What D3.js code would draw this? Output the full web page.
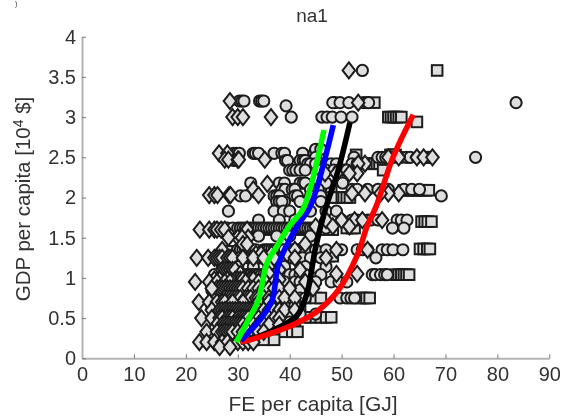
<!DOCTYPE html>
<html><head><meta charset="utf-8">
<script src="https://cdn.jsdelivr.net/npm/d3@7/dist/d3.min.js"></script>
<style>html,body{margin:0;padding:0;background:#fff}svg{display:block}text{font-family:"Liberation Sans",Arial,sans-serif;fill:#333}</style>
</head><body>
<svg id="c" width="563" height="419"></svg>
<script>
const xTicks=[0,10,20,30,40,50,60,70,80,90];
const yTicks=[0,0.5,1,1.5,2,2.5,3,3.5,4];
const yTickLabels=["0","0.5","1","1.5","2","2.5","3","3.5","4"];
const squareRows=[
[3.58,[68.4]],[3.18,[56.3]],[3.0,[59,59.5,60,60.5,61,61.5]],[2.94,[64.5]],[2.53,[52.8,59.4,59.9,60.4]],
[2.42,[54.8,55.3,55.8,56.3,56.8,57.3]],[2.34,[50,58]],[2.09,[62,62.6,63.2,63.8,64.4,65,65.6,66.2,66.8]],[2.08,[47.2,48]],[2.0,[49.2,49.8,50.4,51,51.6,48]],
[1.7,[65.4,66,66.6,67.3]],[1.62,[51,52,52.5]],[1.6,[32,34,36,38,40,42,44,46,48.3]],[1.36,[65.1,65.8,66.5,67]],[1.27,[41,43,45,47.5,48.3]],[1.33,[28,30,32,34,36,38,40]],
[1.04,[60.5,61,61.5,62,62.5,63]],[1.0,[31,33,35,37,39,41,43,45]],[0.92,[30,32,34,36,38,40,42,44]],[0.75,[29,31,33,35,37,39,41,43,45,46,53.6,54.2,54.8,55.4]],
[0.6,[28,30,32,34,36,38,40,42]],[0.51,[44,45,46,47,48,43]],[0.45,[29,31,33,35,37,39,41]],[0.33,[31,33,35,37,39,40.5,41.5]],[0.23,[29,31,33,35,37]]
];
const circleRows=[
[3.58,[54]],[3.2,[30.3,30.8,31.2,34.2,34.6,35]],[3.18,[48.7,48.3,49.7,51.4,54.2,54.8,55.2,83.6]],[3.14,[39.3]],[3.0,[40.3,46.2,47.2,48.2,49.9,52]],
[2.55,[29.2,29.8,30.3,33,33.4,34,37,38.5,39,44.7,42.5]],[2.46,[39.2,39.6,29.3,29.7,42,42.6,43]],[2.6,[45,46]],[2.5,[45,52.4,57,57.8,58.5,60,61.5,62.5,63.2,64.5,66,66.6,67,75.8]],[2.42,[43.5,44,45,46,47,48,49,52,53]],
[2.34,[40,40.6,41.2,42,43,46,47,48.5,49.5,50.5,51]],[2.18,[32.5,42,42.6,43,50.2,47,38,39]],[2.1,[38.5,39.1,40.5,41,44,45,45.5,52,53,55,57,58.5,59,62,63.5,65]],[2.02,[30.5,31.5,37,37.5,38,41,41.5,44,46,69.2]],[1.95,[37.5,38,39,42.5,46,42,38.5]],
[1.83,[37,38.8,40,44,47,49,28.2]],[1.72,[34,38,41,50,52,60.7,61.5,62.6,55,55.6,57,53]],[1.62,[59.8,62,26,27,28,29,30,30.5,31,31.5,32,32.5,33,33.5,34,34.5,35,35.5,36,36.5,37,37.5,38,38.5,39,39.5,40,40.5,41,41.5,42,42.5,43,43.5,44,44.5,45,47]],[1.52,[30.5,34,37.5,40,44]],
[1.35,[30,30.5,31,31.5,32,32.5,33,33.5,35,35.5,36,36.5,37,37.5,38.5,39,40,40.5,41,41.5,42,42.5,43,45,47,50,53,54,55,57.8,58.8,59.9,61.8]],[1.25,[26,28,30,30.5,32,32.5,33,33.5,34,34.5,35,35.5,36,37,38,38.5,40,40.5,42,42.5,44,46,56.6]],[1.14,[27,30,33,36,39,43,47]],
[1.04,[25.5,27,28,28.5,29,29.5,30,30.5,31,31.5,32,32.5,33,33.5,34,34.5,35,35.5,36,36.5,37,37.5,38,38.5,40,41,42,43,46,55.9,56.5,57.5,58.3,58.8]],[0.95,[26,28,29,30,32,33,34,36,37,38,39,41,42,44,45,48,49.5,51]],[0.85,[25,27,28,29,30,31,33,34,35,36,38,40,42,44]],[0.75,[26,28,29,30,31,32,34,35,36,37,38,40,42,43,49.7,51,51.8,52.5]],
[0.65,[25,26,27,28,29,30,31,32,33,34,35,36,38,39,41]],[0.55,[26,27,28,29,30,31,32,33,34,35,36,37,39,40,42,45]],[0.45,[26,27,28,29,30,31,32,33,34,35,36,37,38,40]],[0.35,[26,27,28,29,30,31,32,33,34,35,36]],[0.24,[25,26,27,28,29,30,31,32,33]]
];
const diamondRows=[
[3.58,[51.4]],[3.2,[28.5]],[3.0,[29,30,31,36.4]],[2.55,[26.4,28]],[2.47,[27.5,28.2,30,30.2,35.2]],[2.42,[54.5,53.2]],[2.3,[53,46.8,49,51.5]],
[2.5,[59,61,64.5,65.8,67.5]],[3.18,[53.2]],[2.17,[35.7]],[2.1,[33]],[2.03,[24.5,25.5,26.1,28.3,28.6,34]],[2.05,[61,59,57.5,54.5,52]],
[1.72,[57.8,47,50,52.5,54]],[1.64,[45,48.3,51.5]],[1.6,[22.7,24.5,25.5,26,26.8,27.5,31.8]],[1.5,[30,32,28.2,30.8]],[1.42,[31,31.8,43]],
[1.3,[33.5,34.5,36.5,39.5]],[1.35,[27,41,49,55]],[1.25,[22.1,24.3,25.5,26,26.5,27,28,28.5,29,31,33,37,41,47,35]],[1.1,[27,27.5,28,28.5,29,38,42,29.5]],[1.05,[30.5,36,49,53]],[0.98,[25.5,26.5,28,29.5,30,30.5,31,32.5,33,35,38]],[0.95,[21.8,24.5,26,27.5,29,31.5,34,37,43,28.5]],
[0.87,[26,26.5,27,27.5,28,28.5,29,29.5,30,30.5,31,32,33,34,35,36,37,38,40,44.5,25]],[0.75,[27.5,28,28.5,29,29.5,30,30.5,31.5,32,32.5,33.5,34,35,36,37,38,39,41]],[0.7,[22.5,24.5,26,27,27.5,31,34,29,36]],[0.6,[25,26.5,27,27.5,28,28.5,29,29.5,30,30.5,31,31.5,32,32.5,33,33.5,34,35,36,37,38,39,41]],[0.5,[23,25,26.5,27,28,28.5,29,30,30.5,31,31.5,32,33,34,35,36,37,38]],[0.42,[26,27,27.5,28,28.5,29,29.5,30,30.5,31,32,33,34,35,36,38]],
[0.33,[25,24,26,27,27.5,28,28.5,29,30,31,32,33,34,35]],[0.2,[22.6,24,25.5,27,28,30,31,32,33]],[0.14,[26.5,28.5]]
];
const blackLine=[[30.5,0.2],[34,0.27],[38.1,0.39],[41.4,0.53],[43.3,0.8],[44.1,1.05],[44.9,1.35],[46.8,1.84],[49.3,2.33],[51.6,2.93]];
const redLine=[[30.5,0.2],[34,0.26],[38.1,0.35],[41.4,0.44],[45.2,0.58],[49.4,0.85],[53,1.28],[55,1.66],[56.6,1.88],[59.9,2.5],[63.8,3.03]];
const blueLine=[[30.6,0.22],[31.6,0.29],[34.3,0.48],[36.6,0.72],[37.9,1.18],[41.6,1.66],[43.9,1.88],[48.4,2.9]];
const greenLine=[[29.7,0.2],[31,0.35],[32.2,0.5],[34,0.73],[35.6,1.18],[37.6,1.4],[40.1,1.66],[42.6,1.86],[46.6,2.84]];

const svg=d3.select("#c");
const x=d3.scaleLinear().domain([0,90]).range([82,549.3]);
const y=d3.scaleLinear().domain([0,4]).range([358.3,36.7]);
const g=svg.append("g").style("filter","blur(0.7px)");
const pts=r=>r.flatMap(([v,xs])=>xs.map(a=>[a,v]));
const st=s=>s.attr("fill","#dedede").attr("stroke","#1c1c1c").attr("stroke-width",2);
st(g.append("g").selectAll("rect").data(pts(squareRows)).join("rect")
 .attr("x",d=>x(d[0])-5.3).attr("y",d=>y(d[1])-5.3).attr("width",10.6).attr("height",10.6));
st(g.append("g").selectAll("circle").data(pts(circleRows)).join("circle")
 .attr("cx",d=>x(d[0])).attr("cy",d=>y(d[1])).attr("r",5.6));
const dia=d3.symbol().type({draw(c){c.moveTo(0,-8);c.lineTo(6.3,0);c.lineTo(0,8);c.lineTo(-6.3,0);c.closePath();}})();
st(g.append("g").selectAll("path").data(pts(diamondRows)).join("path")
 .attr("d",dia).attr("transform",d=>`translate(${x(d[0])},${y(d[1])})`));
const line=d3.line().x(d=>x(d[0])).y(d=>y(d[1])).curve(d3.curveCatmullRom);
[[blackLine,"#000"],[redLine,"#ff0000"],[blueLine,"#0000ff"],[greenLine,"#00ff00"]].forEach(([d,c])=>{
 g.append("path").datum(d).attr("d",line).attr("fill","none").attr("stroke",c).attr("stroke-width",5.6);
});
const ax=g.append("g");
const axisX=d3.axisBottom(x).tickValues(xTicks).tickSize(-4).tickPadding(9).tickSizeOuter(0);
const axisY=d3.axisLeft(y).tickValues(yTicks).tickFormat((d,i)=>yTickLabels[i]).tickSize(-4).tickPadding(6).tickSizeOuter(0);
const gx=ax.append("g").attr("transform","translate(0,358.3)").call(axisX);
const gy=ax.append("g").attr("transform","translate(82,0)").call(axisY);
[gx,gy].forEach(a=>{
 a.select(".domain").attr("stroke","#b4b4b4").attr("stroke-width",2);
 a.selectAll(".tick line").attr("stroke","#777").attr("stroke-width",1);
 a.selectAll("text").attr("font-size",20).attr("fill","#333").style("font-family",'"Liberation Sans",Arial,sans-serif');
});
g.append("text").attr("x",312).attr("y",22).attr("text-anchor","middle").attr("font-size",19).text("na1");
g.append("text").attr("x",313).attr("y",411).attr("text-anchor","middle").attr("font-size",21).text("FE per capita [GJ]");
const yl=g.append("text").attr("transform","translate(30,199) rotate(-90)").attr("text-anchor","middle").attr("font-size",20.5);
yl.append("tspan").text("GDP per capita [10");
yl.append("tspan").attr("font-size",14).attr("dy",-7).text("4");
yl.append("tspan").attr("dy",7).text(" $]");
g.append("text").attr("x",15).attr("y",6).attr("font-size",7).text(")");
</script></body></html>
